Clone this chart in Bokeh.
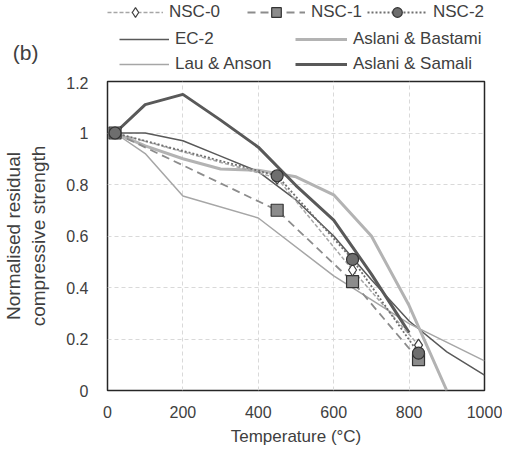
from bokeh.plotting import figure
from bokeh.layouts import column
from bokeh.models import (Legend, LegendItem, NumeralTickFormatter, FixedTicker,
                          LinearAxis, CustomJSTickFormatter)
from bokeh.embed import file_html
from bokeh.resources import INLINE

# ---- data ----
nsc_t = [20, 450, 650, 825]
nsc0 = [1.0, 0.825, 0.468, 0.176]
nsc1 = [1.0, 0.70, 0.423, 0.12]
nsc2 = [1.0, 0.834, 0.509, 0.145]

ec2_t = [20, 100, 200, 300, 400, 500, 600, 700, 800, 900, 1000]
ec2 = [1.0, 1.0, 0.97, 0.91, 0.85, 0.74, 0.60, 0.43, 0.27, 0.15, 0.06]

bast_t = [20, 100, 200, 300, 400, 500, 600, 700, 800, 900]
bast = [1.0, 0.95, 0.90, 0.86, 0.855, 0.83, 0.76, 0.60, 0.33, 0.0]

lau_t = [20, 100, 200, 400, 600, 800, 1000]
lau = [1.0, 0.92, 0.755, 0.67, 0.445, 0.26, 0.115]

sam_t = [20, 100, 200, 300, 400, 500, 600, 700, 800]
sam = [1.0, 1.11, 1.15, 1.05, 0.945, 0.796, 0.662, 0.452, 0.225]

x_ticks = [0, 200, 400, 600, 800, 1000]
y_ticks = [0, 0.2, 0.4, 0.6, 0.8, 1.0, 1.2]
panel_tag = "(b)"

FONT = "Liberation Sans"
TXT = "#404040"
W = 502

# ---- styles ----
S_EC2 = dict(line_color="#595959", line_width=1.5)
S_LAU = dict(line_color="#a6a6a6", line_width=1.5)
S_BAST = dict(line_color="#b3b3b3", line_width=3)
S_SAM = dict(line_color="#595959", line_width=3)
S_L0 = dict(line_color="#a6a6a6", line_width=1.5, line_dash="4 2")
S_L1 = dict(line_color="#8c8c8c", line_width=1.8, line_dash="8 5")
S_L2 = dict(line_color="#707070", line_width=1.8, line_dash="2 2")
S_M0 = dict(marker="diamond", fill_color="white", line_color="#404040", line_width=1.2)
S_M1 = dict(marker="square", fill_color="#8c8c8c", line_color="#333333", line_width=1.2)
S_M2 = dict(marker="circle", fill_color="#6e6e6e", line_color="#333333", line_width=1.2)

# ---- main plot ----
p = figure(width=W, height=372, x_range=(0, 1000), y_range=(0, 1.2),
           output_backend="svg", toolbar_location=None,
           min_border_left=100, min_border_right=18,
           min_border_top=5, min_border_bottom=55)

p.xaxis.ticker = FixedTicker(ticks=x_ticks)
p.yaxis.ticker = FixedTicker(ticks=y_ticks)
p.yaxis.formatter = NumeralTickFormatter(format="0.[0]")
for ax in (p.xaxis, p.yaxis):
    ax.axis_line_color = None
    ax.major_tick_line_color = None
    ax.minor_tick_line_color = None
    ax.major_label_text_font = FONT
    ax.major_label_text_font_size = "16px"
    ax.major_label_text_color = TXT
    ax.axis_label_text_font = FONT
    ax.axis_label_text_font_style = "normal"
    ax.axis_label_text_color = TXT
p.xaxis.axis_label = "Temperature (°C)"
p.xaxis.axis_label_text_font_size = "17px"
p.yaxis.axis_label = "Normalised residual\ncompressive strength"
p.yaxis.axis_label_text_font_size = "19px"
p.xaxis.major_label_standoff = 9
p.xaxis.axis_label_standoff = 6
p.yaxis.major_label_standoff = 13
p.yaxis.axis_label_standoff = 14

p.grid.grid_line_color = "#d9d9d9"
p.grid.grid_line_dash = "4 3"
p.grid.grid_line_width = 1
p.outline_line_color = "#262626"
p.outline_line_width = 1.5
p.outline_line_alpha = 1

p.line(ec2_t, ec2, **S_EC2)
p.line(lau_t, lau, **S_LAU)
p.line(bast_t, bast, **S_BAST)
p.line(sam_t, sam, **S_SAM)
p.line(nsc_t, nsc0, **S_L0)
p.line(nsc_t, nsc1, **S_L1)
p.line(nsc_t, nsc2, **S_L2)
p.scatter(nsc_t, nsc1, size=12, **S_M1)
p.scatter(nsc_t, nsc0, size=12, **S_M0)
p.scatter(nsc_t, nsc2, size=12, **S_M2)

# ---- legend strip (above the plot; its frame is aligned with the plot's) ----
LH = 76
lg = figure(width=W, height=LH, x_range=(0, 1), y_range=(0, LH),
            x_axis_type=None, y_axis_type=None, min_border=0,
            output_backend="svg", toolbar_location=None)
lg.outline_line_color = None
lg.grid.visible = False

# panel tag "(b)" drawn as the single tick label of a left axis
tag_axis = LinearAxis(ticker=FixedTicker(ticks=[LH - 52]),
                      formatter=CustomJSTickFormatter(code="return '%s'" % panel_tag))
tag_axis.axis_line_color = None
tag_axis.major_tick_line_color = None
tag_axis.minor_tick_line_color = None
tag_axis.major_label_text_font = FONT
tag_axis.major_label_text_font_size = "21px"
tag_axis.major_label_text_color = TXT
tag_axis.major_label_standoff = 63
lg.add_layout(tag_axis, "left")

# hidden copies of the series, used only to draw the legend glyphs
k_l0 = lg.line(nsc_t, nsc0, visible=False, **S_L0)
k_m0 = lg.scatter(nsc_t, nsc0, size=10, visible=False, **S_M0)
k_l1 = lg.line(nsc_t, nsc1, visible=False, **S_L1)
k_m1 = lg.scatter(nsc_t, nsc1, size=10, visible=False, **S_M1)
k_l2 = lg.line(nsc_t, nsc2, visible=False, **S_L2)
k_m2 = lg.scatter(nsc_t, nsc2, size=10, visible=False, **S_M2)
k_ec2 = lg.line(ec2_t, ec2, visible=False, **S_EC2)
k_lau = lg.line(lau_t, lau, visible=False, **S_LAU)
k_bast = lg.line(bast_t, bast, visible=False, **S_BAST)
k_sam = lg.line(sam_t, sam, visible=False, **S_SAM)


def add_legend(items, loc, glyph_width):
    leg = Legend(items=items, location=loc, orientation="vertical",
                 glyph_width=glyph_width, glyph_height=24, label_height=24,
                 label_standoff=6, spacing=1, padding=0, margin=0,
                 border_line_color=None, background_fill_alpha=0,
                 inactive_fill_alpha=0,
                 label_text_font=FONT, label_text_font_size="17px",
                 label_text_color=TXT)
    lg.add_layout(leg, "center")


add_legend([LegendItem(label="NSC-0", renderers=[k_l0, k_m0])], (0, 52), 56)
add_legend([LegendItem(label="NSC-1", renderers=[k_l1, k_m1])], (140, 52), 58)
add_legend([LegendItem(label="NSC-2", renderers=[k_l2, k_m2])], (260, 52), 60)
add_legend([LegendItem(label="EC-2", renderers=[k_ec2]),
            LegendItem(label="Lau & Anson", renderers=[k_lau])], (12, 0), 50)
add_legend([LegendItem(label="Aslani & Bastami", renderers=[k_bast]),
            LegendItem(label="Aslani & Samali", renderers=[k_sam])], (188, 0), 52)

layout = column(lg, p, spacing=0)
open("out.html", "w").write(file_html(layout, INLINE))
